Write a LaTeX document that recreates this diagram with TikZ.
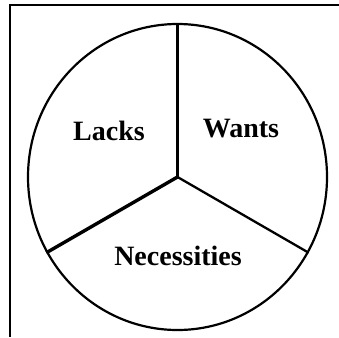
\documentclass[tikz,border=0pt]{standalone}
\usepackage{fontspec}
\setmainfont{Liberation Serif}
\usetikzlibrary{shapes.geometric}

\begin{document}
\begin{tikzpicture}[
  x=1pt, y=-1pt,
  frame/.style = {line width=2.4pt, draw=black},
  spoke/.style = {line width=#1, draw=black},
  spoke/.default = 2.3pt,
  lbl/.style   = {anchor=base, inner sep=0pt,
                  font=\fontsize{28}{32}\selectfont\bfseries},
]
\useasboundingbox (0,0) rectangle (339,337);
% frame: only top and left edges
\draw[frame] (339,5) -- (10,5) -- (10,337);
% the pie
\node[ellipse, draw, line width=2.2pt, minimum width=299pt,
      minimum height=306pt, inner sep=0pt] (pie) at (177.5,177) {};
\draw[spoke] (pie.center) -- (pie.90);
\draw[spoke] (pie.center) -- (pie.-30);
\draw[spoke=3.4pt] (pie.center) -- (pie.210);
% labels
\node[lbl] (lacks) at (109,140) {Lacks};
\node[lbl] (wants) at (241,137) {Wants};
\node[lbl] (nec)   at (178,265) {Necessities};
\end{tikzpicture}
\end{document}
